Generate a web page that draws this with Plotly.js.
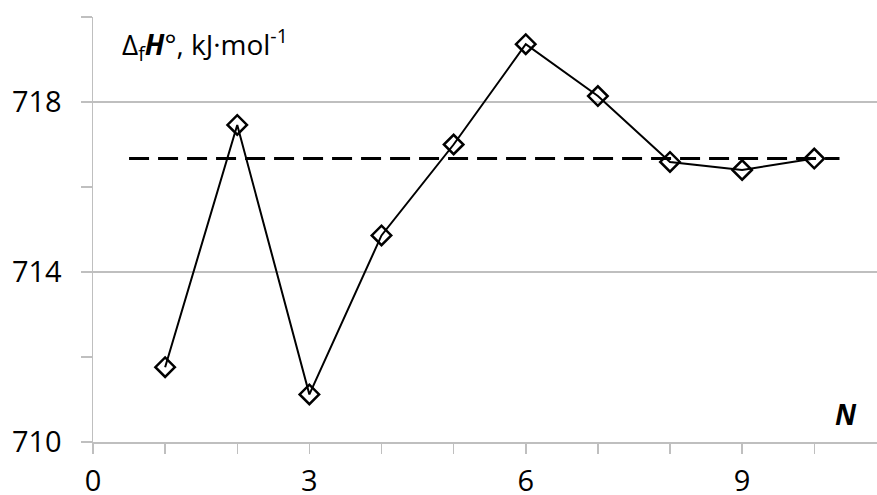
<!DOCTYPE html>
<html>
<head>
<meta charset="utf-8">
<script src="https://cdn.plot.ly/plotly-3.0.1.min.js"></script>
<style>html,body{margin:0;padding:0;background:#fff;}#chart{width:877px;height:495px;}</style>
</head>
<body>
<div id="chart"></div>
<script>
var nValues = [1, 2, 3, 4, 5, 6, 7, 8, 9, 10];
var enthalpy = [711.76, 717.46, 711.12, 714.86, 717.0, 719.36, 718.14, 716.59, 716.40, 716.67];
var meanX = [0.5, 10.35];
var meanY = [716.67, 716.67];
var xTickVals = [0, 3, 6, 9];
var yTickVals = [710, 714, 718];

var FONT = '"Open Sans", "Noto Sans", sans-serif';
var GRAY = '#bfbfbf';

var traces = [
  {x: meanX, y: meanY, type: 'scatter', mode: 'lines',
   line: {color: '#000', width: 3, dash: '20px,9px'}, hoverinfo: 'skip'},
  {x: nValues, y: enthalpy, type: 'scatter', mode: 'lines+markers',
   line: {color: '#000', width: 2},
   marker: {symbol: 'diamond-open', size: 15, color: '#000', line: {color: '#000', width: 2.5}}}
];

var layout = {
  width: 877, height: 495,
  margin: {l: 93, r: 0, t: 17, b: 53},
  paper_bgcolor: '#fff', plot_bgcolor: '#fff',
  showlegend: false,
  font: {family: FONT, size: 29, color: '#000'},
  xaxis: {
    range: [0, 10.87], tickvals: xTickVals, ticktext: xTickVals.map(String),
    showgrid: false, zeroline: false, showline: true, linecolor: GRAY, linewidth: 1.5,
    ticks: 'outside', ticklen: 10, tickcolor: GRAY, tickwidth: 1.5,
    ticklabelstandoff: 3,
    minor: {dtick: 1, tick0: 0, ticks: 'outside', ticklen: 10, tickcolor: GRAY, tickwidth: 1.5, showgrid: false},
    tickfont: {family: FONT, size: 29, color: '#000'}
  },
  yaxis: {
    range: [710, 720], tickvals: yTickVals, ticktext: yTickVals.map(String),
    showgrid: true, gridcolor: GRAY, gridwidth: 1.5, zeroline: false,
    showline: true, linecolor: GRAY, linewidth: 1.5,
    ticks: 'outside', ticklen: 11, tickcolor: GRAY, tickwidth: 1.5,
    ticklabelstandoff: 13,
    minor: {dtick: 2, tick0: 710, ticks: 'outside', ticklen: 11, tickcolor: GRAY, tickwidth: 1.5, showgrid: false},
    tickfont: {family: FONT, size: 29, color: '#000'}
  },
  annotations: [
    {xref: 'paper', yref: 'paper', x: 0.034, y: 0.936, xanchor: 'left', yanchor: 'middle',
     text: 'Δ<sub>f</sub><b><i>H</i></b>°, kJ·mol<sup>-1</sup>', showarrow: false,
     font: {family: FONT, size: 28, color: '#000'}},
    {xref: 'paper', yref: 'paper', x: 0.961, y: 0.065, xanchor: 'center', yanchor: 'middle',
     text: '<b><i>N</i></b>', showarrow: false,
     font: {family: FONT, size: 28, color: '#000'}}
  ]
};

Plotly.newPlot('chart', traces, layout, {displayModeBar: false, staticPlot: true});
</script>
</body>
</html>
